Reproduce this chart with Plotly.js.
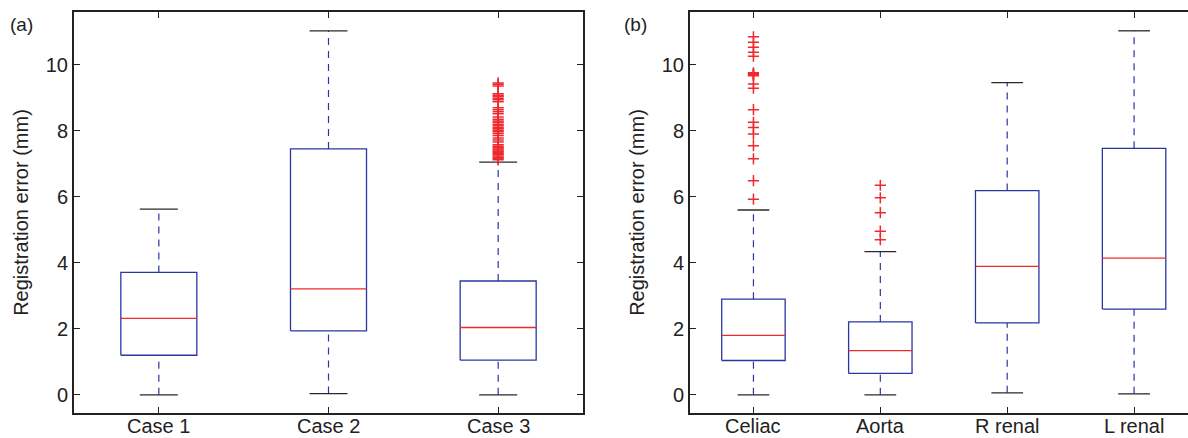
<!DOCTYPE html>
<html>
<head>
<meta charset="utf-8">
<script src="https://cdn.plot.ly/plotly-3.0.1.min.js"></script>
<style>
  html, body { margin: 0; padding: 0; background: #ffffff; }
  #chart { width: 1188px; height: 438px; }
</style>
</head>
<body>
<div id="chart"></div>
<script>
// ---------- Data ----------
const categoriesA = ['Case 1', 'Case 2', 'Case 3'];
const lowerA  = [0.00, 0.04, 0.00];
const q1A     = [1.20, 1.94, 1.05];
const medianA = [2.32, 3.21, 2.04];
const q3A     = [3.71, 7.45, 3.45];
const upperA  = [5.63, 11.03, 7.05];
const outliersCase1 = [];
const outliersCase2 = [];
const outliersCase3 = [7.12, 7.16, 7.20, 7.24, 7.28, 7.31, 7.35, 7.38, 7.42, 7.45, 7.49, 7.53,
                       7.58, 7.66, 7.72, 7.78, 7.86, 7.92, 7.97, 8.02, 8.06, 8.10, 8.15, 8.20,
                       8.26, 8.30, 8.35, 8.42, 8.52, 8.58, 8.64, 8.70, 8.88, 8.94, 8.99, 9.04,
                       9.08, 9.12, 9.36, 9.41, 9.45];

const categoriesB = ['Celiac', 'Aorta', 'R renal', 'L renal'];
const lowerB  = [0.00, 0.00, 0.06, 0.03];
const q1B     = [1.04, 0.65, 2.18, 2.60];
const medianB = [1.80, 1.34, 3.89, 4.14];
const q3B     = [2.90, 2.21, 6.19, 7.47];
const upperB  = [5.60, 4.34, 9.46, 11.03];
const outliersCeliac = [5.93, 6.49, 7.15, 7.55, 7.90, 8.10, 8.26, 8.64, 9.29, 9.42,
                        9.67, 9.70, 9.73, 9.76, 10.26, 10.38, 10.53, 10.68, 10.85];
const outliersAorta  = [4.70, 4.96, 5.52, 5.97, 6.35];
const outliersRRenal = [];
const outliersLRenal = [];

const yTickVals = [0, 2, 4, 6, 8, 10];
const yTitle = 'Registration error (mm)';
const panelLabels = ['(a)', '(b)'];

// ---------- Styles ----------
const BLUE = '#2b36a3';
const RED = '#ee2a2f';
const CAP = '#2a2a2a';
const AXIS = '#222222';
const FONT = 'Liberation Sans, Arial, Helvetica, sans-serif';

function boxTraces(cats, low, q1, med, q3, up, outs, halfW, xa, ya) {
  const n = cats.length;
  const pos = cats.map((c, i) => i + 1);
  const bx = [], by = [], mx = [], my = [], wx = [], wy = [], cx = [], cy = [], ox = [], oy = [];
  for (let i = 0; i < n; i++) {
    const p = pos[i];
    bx.push(p - halfW, p + halfW, p + halfW, p - halfW, p - halfW, null);
    by.push(q1[i], q1[i], q3[i], q3[i], q1[i], null);
    mx.push(p - halfW, p + halfW, null);
    my.push(med[i], med[i], null);
    wx.push(p, p, null, p, p, null);
    wy.push(q3[i], up[i], null, low[i], q1[i], null);
    cx.push(p - halfW / 2, p + halfW / 2, null, p - halfW / 2, p + halfW / 2, null);
    cy.push(up[i], up[i], null, low[i], low[i], null);
    outs[i].forEach(v => { ox.push(p); oy.push(v); });
  }
  const common = { type: 'scatter', mode: 'lines', xaxis: xa, yaxis: ya, hoverinfo: 'skip', showlegend: false };
  return [
    Object.assign({}, common, { x: wx, y: wy, line: { color: BLUE, width: 1.2, dash: '7px,6px' } }),
    Object.assign({}, common, { x: cx, y: cy, line: { color: CAP, width: 1.3 } }),
    Object.assign({}, common, { x: bx, y: by, line: { color: BLUE, width: 1.3 } }),
    Object.assign({}, common, { x: mx, y: my, line: { color: RED, width: 1.3 } }),
    Object.assign({}, common, { mode: 'markers', x: ox, y: oy,
      marker: { symbol: 'cross-thin', size: 8, color: RED, line: { color: RED, width: 1.5 } } })
  ];
}

const traces = []
  .concat(boxTraces(categoriesA, lowerA, q1A, medianA, q3A, upperA,
                    [outliersCase1, outliersCase2, outliersCase3], 0.224, 'x', 'y'))
  .concat(boxTraces(categoriesB, lowerB, q1B, medianB, q3B, upperB,
                    [outliersCeliac, outliersAorta, outliersRRenal, outliersLRenal], 0.25, 'x2', 'y2'));

const W = 1188;
const PLOT_H = 401;   // plot area height in px (438 - 12 - 25)
const tickFont = { family: FONT, size: 20, color: '#222' };

function xAxis(cats, domain, range, mirrorMode) {
  return {
    domain: domain, range: range,
    tickmode: 'array', tickvals: cats.map((c, i) => i + 1), ticktext: cats,
    showticklabels: false,
    ticks: 'inside', ticklen: 6, tickwidth: 1, tickcolor: AXIS,
    showline: true, linecolor: AXIS, linewidth: 2, mirror: mirrorMode,
    showgrid: false, zeroline: false, tickfont: tickFont, automargin: false,
    fixedrange: true
  };
}
function yAxis(anchor, mirrorMode) {
  return {
    anchor: anchor, range: [-0.55, 11.6],
    tickmode: 'array', tickvals: yTickVals, ticktext: yTickVals.map(String),
    ticks: 'inside', ticklen: 6, tickwidth: 1, tickcolor: AXIS,
    showline: true, linecolor: AXIS, linewidth: 2, mirror: mirrorMode,
    showgrid: false, zeroline: false, tickfont: tickFont, automargin: false,
    title: { text: yTitle, font: { family: FONT, size: 20, color: '#222' }, standoff: 12 },
    fixedrange: true
  };
}

// category labels under each axis (placed on the data x scale)
function catLabels(cats, xref) {
  return cats.map((c, i) => ({
    text: c, xref: xref, yref: 'paper', x: i + 1, y: -25 / PLOT_H,
    xanchor: 'center', yanchor: 'bottom', showarrow: false, borderpad: 0,
    font: tickFont
  }));
}

const layout = {
  width: 1188, height: 438,
  margin: { l: 0, r: 0, t: 12, b: 25, pad: 0 },
  paper_bgcolor: '#ffffff', plot_bgcolor: '#ffffff',
  font: { family: FONT, color: '#222' },
  showlegend: false,
  xaxis: xAxis(categoriesA, [74 / W, 583 / W], [0.5, 3.5], 'ticks'),
  yaxis: yAxis('x', 'ticks'),
  xaxis2: Object.assign(xAxis(categoriesB, [690 / W, 1], [0.5, 4.425], 'ticks'), { anchor: 'y2' }),
  yaxis2: yAxis('x2', false),
  annotations: [
    { text: panelLabels[0], xref: 'paper', yref: 'paper', x: 8 / W, y: 0.968, xanchor: 'left', yanchor: 'middle',
      showarrow: false, font: { family: FONT, size: 19, color: '#222' } },
    { text: panelLabels[1], xref: 'paper', yref: 'paper', x: 622 / W, y: 0.968, xanchor: 'left', yanchor: 'middle',
      showarrow: false, font: { family: FONT, size: 19, color: '#222' } }
  ].concat(catLabels(categoriesA, 'x')).concat(catLabels(categoriesB, 'x2'))
};

Plotly.newPlot('chart', traces, layout, { staticPlot: true, displayModeBar: false });
</script>
</body>
</html>
